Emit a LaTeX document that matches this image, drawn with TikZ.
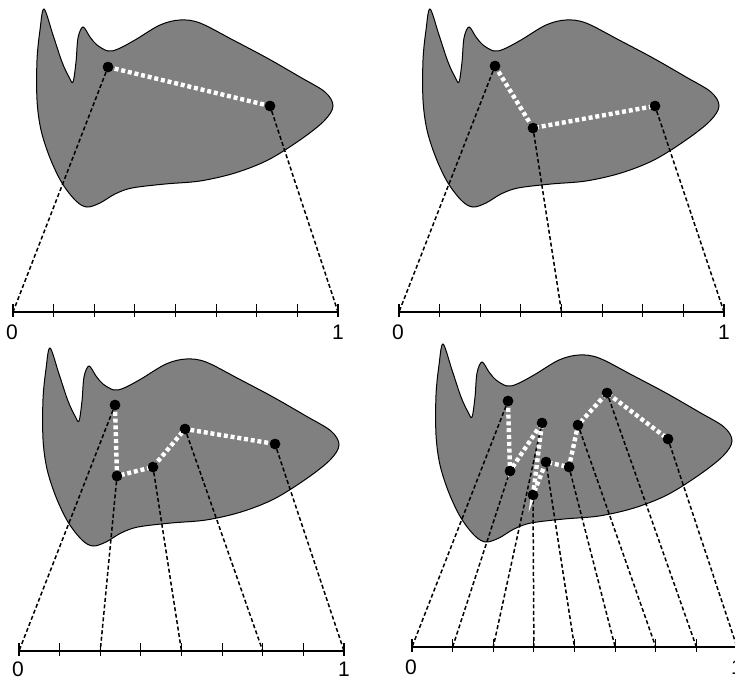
\documentclass[tikz,border=0pt]{standalone}
\usepackage{fontspec}
\setmainfont{Liberation Sans}
\definecolor{shapegray}{HTML}{808080}
\tikzset{
  blob/.style={fill=shapegray, draw=black, line width=1pt},
  dot/.style={circle, fill=black, inner sep=0pt, minimum size=10.5pt},
  proj/.style={draw=black, line width=1.5pt, dash pattern=on 4pt off 2.5pt},
  curve/.style={draw=white, line width=4.4pt, dash pattern=on 4pt off 2.8pt},
  axisline/.style={line width=1.5pt},
  tickmark/.style={line width=1.2pt},
  lbl/.style={font=\fontsize{21}{21}\selectfont, anchor=base, inner sep=0pt}
}
\newcommand\blobshape{%
  \path[blob] plot[smooth cycle, tension=0.55] coordinates {
    (44,9) (40,30) (37,60) (37,100) (41,130) (50,158) (62,183) (76,201) (87,207)
    (100,203) (115,194) (132,188) (165,184) (200,181) (235,173) (268,160)
    (300,140) (324,121) (333,106) (325,92) (300,77) (267,58) (233,40)
    (200,23) (180,20) (160,25) (135,40) (118,49) (108,51) (97,45) (90,37)
    (83,27) (78,38) (76,62) (73,82) (69,77) (62,62) (53,35)};%
}
\newcommand\axisbar[2]{%
  \draw[axisline] (13,312) -- (338,312);
  \foreach \i in {0,...,8} {
    \draw[tickmark] ({13+\i*40.625},304) -- ({13+\i*40.625},317);
    \coordinate (#1t\i) at ({13+\i*40.625},312);
  }
  \node[lbl] (#1zero) at (12,#2) {0};
  \node[lbl] (#1one) at (338,#2) {1};
}
\begin{document}
\begin{tikzpicture}[x=1pt,y=-1pt]
\useasboundingbox (0,0) rectangle (735,680);

% Panel 1
\begin{scope}
  \blobshape
  \axisbar{A}{339}
  \node[dot] (Aa) at (108,67) {};
  \node[dot] (Ab) at (270,106) {};
  \draw[proj] (Aa) -- (At0);
  \draw[proj] (Ab) -- (At8);
  \draw[curve] (Aa.center) -- (Ab.center);
  \node[dot] at (Aa) {};
  \node[dot] at (Ab) {};
\end{scope}

% Panel 2
\begin{scope}[shift={(386,0)}]
  \blobshape
  \axisbar{B}{339}
  \node[dot] (Ba) at (109,66) {};
  \node[dot] (Bb) at (147,128) {};
  \node[dot] (Bc) at (269,106) {};
  \draw[proj] (Ba) -- (Bt0);
  \draw[proj] (Bb) -- (Bt4);
  \draw[proj] (Bc) -- (Bt8);
  \draw[curve] (Ba.center) -- (Bb.center) -- (Bc.center);
  \foreach \n in {Ba,Bb,Bc} \node[dot] at (\n) {};
\end{scope}

% Panel 3
\begin{scope}[shift={(6,339)}]
  \blobshape
  \axisbar{C}{337}
  \node[dot] (Ca) at (109,66) {};
  \node[dot] (Cb) at (111,137) {};
  \node[dot] (Cc) at (147,128) {};
  \node[dot] (Cd) at (179,90) {};
  \node[dot] (Ce) at (269,105) {};
  \draw[proj] (Ca) -- (Ct0);
  \draw[proj] (Cb) -- (Ct2);
  \draw[proj] (Cc) -- (Ct4);
  \draw[proj] (Cd) -- (Ct6);
  \draw[proj] (Ce) -- (Ct8);
  \draw[curve] (Ca.center) -- (Cb.center) -- (Cc.center) -- (Cd.center) -- (Ce.center);
  \foreach \n in {Ca,Cb,Cc,Cd,Ce} \node[dot] at (\n) {};
\end{scope}

% Panel 4
\begin{scope}[shift={(399,335)}]
  \blobshape
  \axisbar{D}{339}
  \node[dot] (Da) at (109,66) {};
  \node[dot] (Db) at (111,136) {};
  \node[dot] (Dc) at (143,88) {};
  \node[dot] (Dd) at (134,160) {};
  \node[dot] (De) at (147,127) {};
  \node[dot] (Df) at (170,132) {};
  \node[dot] (Dg) at (179,90) {};
  \node[dot] (Dh) at (208,58) {};
  \node[dot] (Di) at (269,104) {};
  \draw[proj] (Da) -- (Dt0);
  \draw[proj] (Db) -- (Dt1);
  \draw[proj] (Dc) -- (Dt2);
  \draw[proj] (Dd) -- (Dt3);
  \draw[proj] (De) -- (Dt4);
  \draw[proj] (Df) -- (Dt5);
  \draw[proj] (Dg) -- (Dt6);
  \draw[proj] (Dh) -- (Dt7);
  \draw[proj] (Di) -- (Dt8);
  \draw[curve] (Da.center) -- (Db.center) -- (Dc.center) -- (Dd.center) -- (De.center)
     -- (Df.center) -- (Dg.center) -- (Dh.center) -- (Di.center);
  \foreach \n in {Da,Db,Dc,Dd,De,Df,Dg,Dh,Di} \node[dot] at (\n) {};
\end{scope}
\end{tikzpicture}
\end{document}
